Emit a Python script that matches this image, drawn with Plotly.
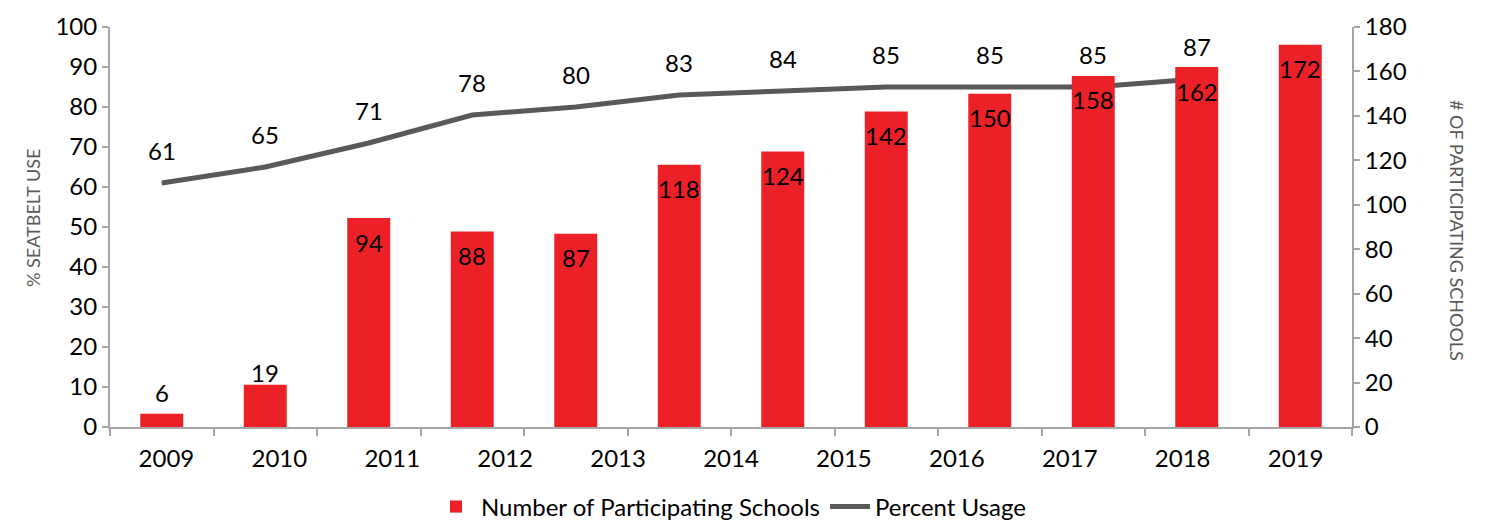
import plotly.graph_objects as go

# ---- data ----
year_labels = ["2009", "2010", "2011", "2012", "2013", "2014", "2015", "2016", "2017", "2018", "2019"]
bar_slots = list(range(12))  # 12 bar positions on the category axis
schools = [6, 19, 94, 88, 87, 118, 124, 142, 150, 158, 162, 172]
usage_slots = list(range(11))
usage = [61, 65, 71, 78, 80, 83, 84, 85, 85, 85, 87]

# ---- style ----
FONT = "Lato, 'Noto Sans', sans-serif"
RED = "#EC2027"
GRAY = "#595959"
AXIS = "#A6A6A6"
FS = 24
W, H = 1486, 522
ml, mt = 110, 27
pw, ph = 1242, 400
mr, mb = W - ml - pw, H - mt - ph

fig = go.Figure()
fig.add_trace(go.Bar(
    x=bar_slots, y=schools, xaxis="x", yaxis="y2", name="Number of Participating Schools",
    marker=dict(color=RED, line=dict(width=0)), hoverinfo="y",
))
fig.add_trace(go.Scatter(
    x=usage_slots, y=usage, xaxis="x", yaxis="y", mode="lines", name="Percent Usage",
    line=dict(color=GRAY, width=5),
))
# invisible trace that carries the year label axis
fig.add_trace(go.Scatter(
    x=year_labels, y=[0] * len(year_labels), xaxis="x2", yaxis="y", mode="markers",
    marker=dict(opacity=0), showlegend=False, hoverinfo="skip",
))

annotations = []
bar_shift = [21, 12] + [-24] * (len(schools) - 2)
for xs, v, s in zip(bar_slots, schools, bar_shift):
    annotations.append(dict(x=xs, y=v, xref="x", yref="y2", text=str(v), showarrow=False,
                            yshift=s, font=dict(family=FONT, size=FS, color="black")))
for xs, v in zip(usage_slots, usage):
    annotations.append(dict(x=xs, y=v, xref="x", yref="y", text=str(v), showarrow=False,
                            yshift=33, font=dict(family=FONT, size=FS, color="black")))
annotations.append(dict(x=(33 - ml) / pw, y=(427 - 218) / ph, xref="paper", yref="paper",
                        text="% SEATBELT USE", showarrow=False, textangle=-90,
                        xanchor="center", yanchor="middle",
                        font=dict(family=FONT, size=18, color=GRAY)))
annotations.append(dict(x=(1457 - ml) / pw, y=(427 - 230) / ph, xref="paper", yref="paper",
                        text="# OF PARTICIPATING SCHOOLS", showarrow=False, textangle=90,
                        xanchor="center", yanchor="middle",
                        font=dict(family=FONT, size=18, color=GRAY)))

n = len(bar_slots)
fig.update_layout(
    width=W, height=H,
    margin=dict(l=ml, r=mr, t=mt, b=mb, autoexpand=False),
    paper_bgcolor="white", plot_bgcolor="white",
    bargap=0.585,
    annotations=annotations,
    font=dict(family=FONT, size=FS, color="black"),
    xaxis=dict(range=[-0.5, n - 0.5], showline=True, linecolor=AXIS, linewidth=2,
               ticks="outside", tickvals=[i - 0.5 for i in range(n + 1)], ticklen=7,
               tickcolor=AXIS, tickwidth=2, showticklabels=False, showgrid=False,
               zeroline=False, automargin=False),
    xaxis2=dict(type="category", overlaying="x", side="bottom", anchor="y",
                range=[-0.5, len(year_labels) - 0.5], showline=False, showgrid=False,
                ticks="outside", ticklen=10, tickcolor="rgba(0,0,0,0)",
                tickfont=dict(size=FS), automargin=False),
    yaxis=dict(range=[0, 100], dtick=10, showline=True, linecolor=AXIS, linewidth=2,
               ticks="outside", ticklen=6, tickcolor=AXIS, tickwidth=2, showgrid=False,
               zeroline=False, tickfont=dict(size=FS), automargin=False),
    yaxis2=dict(range=[0, 180], dtick=20, overlaying="y", side="right", anchor="x",
                showline=True, linecolor=AXIS, linewidth=2, ticks="outside", ticklen=6,
                tickcolor=AXIS, tickwidth=2, showgrid=False, zeroline=False,
                tickfont=dict(size=FS), automargin=False),
    legend=dict(orientation="h", x=0.5, xanchor="center", y=-0.2, yanchor="middle",
                font=dict(size=FS), itemwidth=40, traceorder="normal"),
    showlegend=True,
)

fig.write_html(
    "out.html",
    config={"displayModeBar": False},
    post_script="document.body.style.margin='0px';document.body.style.overflow='hidden';",
)
